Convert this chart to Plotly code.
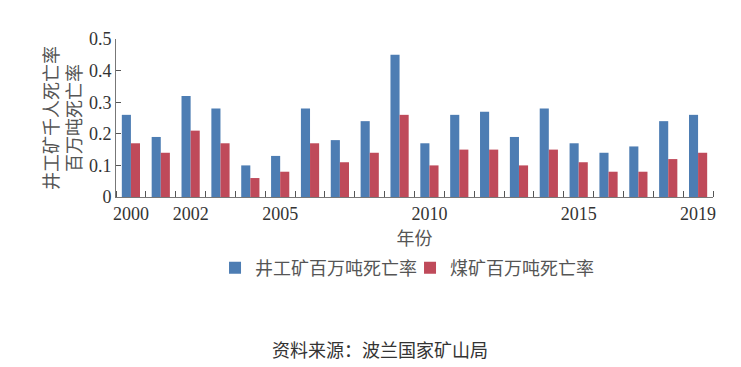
import plotly.graph_objects as go

years = list(range(2000, 2020))
underground_rate = [0.26, 0.19, 0.32, 0.28, 0.10, 0.13, 0.28, 0.18, 0.24, 0.45,
                    0.17, 0.26, 0.27, 0.19, 0.28, 0.17, 0.14, 0.16, 0.24, 0.26]
coal_rate = [0.17, 0.14, 0.21, 0.17, 0.06, 0.08, 0.17, 0.11, 0.14, 0.26,
             0.10, 0.15, 0.15, 0.10, 0.15, 0.11, 0.08, 0.08, 0.12, 0.14]
series_names = ["井工矿百万吨死亡率", "煤矿百万吨死亡率"]
x_tick_years = [2000, 2002, 2005, 2010, 2015, 2019]
y_ticks = [0, 0.1, 0.2, 0.3, 0.4, 0.5]
y_tick_text = ["0", "0.1", "0.2", "0.3", "0.4", "0.5"]
y_title = "井工矿千人死亡率<br>百万吨死亡率"
x_title = "年份"
source_text = "资料来源：波兰国家矿山局"

BLUE = "#4d7db3"
RED = "#bf4a5a"
CJK = "Noto Sans CJK SC"
SERIF = "Liberation Serif, Times New Roman, serif"

fig = go.Figure()
fig.add_trace(go.Bar(x=years, y=underground_rate, name=series_names[0],
                     marker=dict(color=BLUE, line=dict(width=0))))
fig.add_trace(go.Bar(x=years, y=coal_rate, name=series_names[1],
                     marker=dict(color=RED, line=dict(width=0))))

# the page body adds an 8px offset, so the figure is 8px smaller than the window
fig.update_layout(
    width=733, height=359,
    margin=dict(l=108, r=28, t=31, b=170),
    paper_bgcolor="white", plot_bgcolor="white",
    barmode="group", bargap=0.39, bargroupgap=0,
    showlegend=True,
    legend=dict(orientation="h", x=0.4925, xanchor="center", y=-0.45, yanchor="middle",
                font=dict(family=CJK, size=18, color="#555"),
                itemwidth=30, tracegroupgap=0,
                entrywidth=150, entrywidthmode="pixels"),
    font=dict(family=SERIF, size=17, color="#222"),
)

fig.update_xaxes(
    range=[1999.5, 2019.5],
    tickmode="array", tickvals=x_tick_years, ticktext=[str(v) for v in x_tick_years],
    ticks="", showgrid=False, zeroline=False,
    showline=True, linecolor="#777", linewidth=1,
    tickfont=dict(family=SERIF, size=18, color="#333"),
    minor=dict(tickmode="linear", tick0=1999.5, dtick=1, ticks="inside",
               ticklen=6, tickcolor="#555", tickwidth=1, showgrid=False),
    title=dict(text=x_title, font=dict(family=CJK, size=18, color="#555"), standoff=4),
)

fig.update_yaxes(
    range=[0, 0.5],
    tickmode="array", tickvals=y_ticks, ticktext=y_tick_text,
    ticks="inside", ticklen=5, tickcolor="#555", tickwidth=1,
    showgrid=False, zeroline=False,
    showline=True, linecolor="#777", linewidth=1,
    tickfont=dict(family=SERIF, size=18, color="#333"),
    title=dict(text=y_title, font=dict(family=CJK, size=18, color="#555"), standoff=2),
)

fig.add_annotation(text=source_text, xref="paper", yref="paper",
                   x=0.442, y=-0.962, xanchor="center", yanchor="middle",
                   showarrow=False, font=dict(family=CJK, size=18, color="#333"))

fig.write_html("out.html")
